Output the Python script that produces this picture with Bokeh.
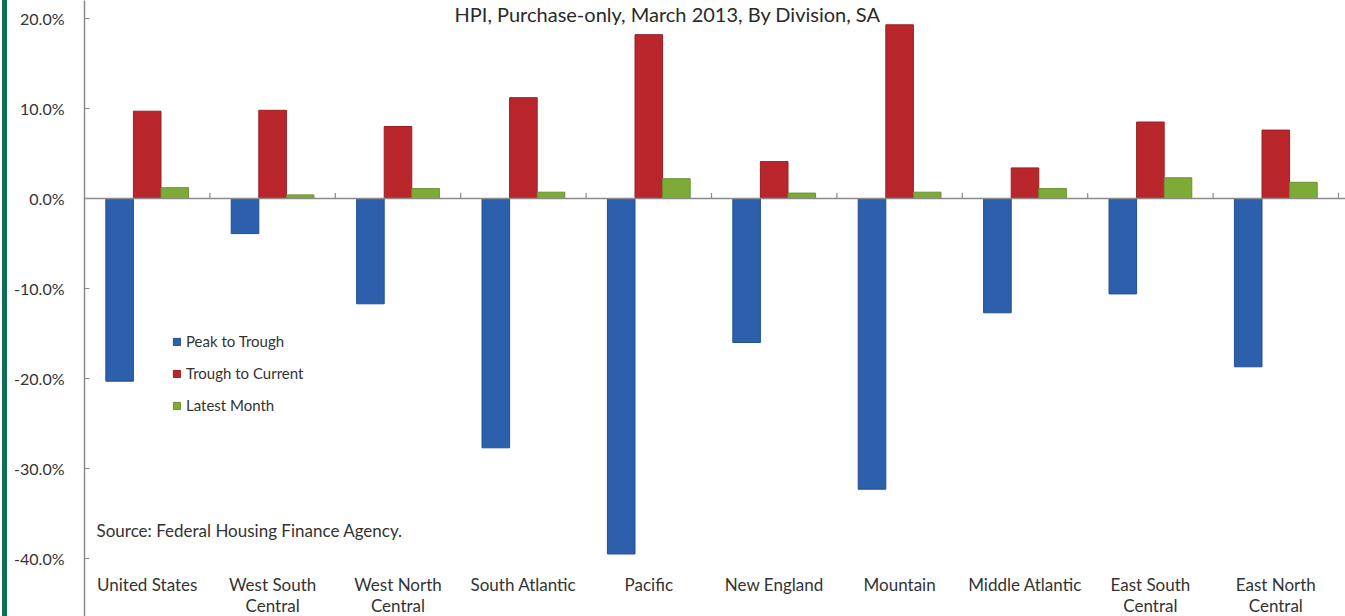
from bokeh.plotting import figure
from bokeh.models import (Range1d, FixedTicker, PrintfTickFormatter, Span, Legend,
                          LegendItem, Label, Div, ColumnDataSource)
from bokeh.layouts import row
from bokeh.embed import file_html
from bokeh.resources import INLINE
from bokeh.core.properties import value

# ---------------- data ----------------
categories = ["United States", "West South\nCentral", "West North\nCentral", "South Atlantic",
              "Pacific", "New England", "Mountain", "Middle Atlantic",
              "East South\nCentral", "East North\nCentral"]
peak_to_trough = [-20.3, -3.9, -11.7, -27.7, -39.5, -16.0, -32.3, -12.7, -10.6, -18.7]
trough_to_current = [9.7, 9.8, 8.0, 11.2, 18.2, 4.1, 19.3, 3.4, 8.5, 7.6]
latest_month = [1.2, 0.4, 1.1, 0.7, 2.2, 0.6, 0.7, 1.1, 2.3, 1.8]
series_names = ["Peak to Trough", "Trough to Current", "Latest Month"]
y_ticks = [-40, -30, -20, -10, 0, 10, 20]
title_text = "HPI, Purchase-only, March 2013, By Division, SA"
source_text = "Source: Federal Housing Finance Agency."

# ---------------- style ----------------
FONT = "Lato"
TXT = "#333333"
AX = "#8a8a8a"
colors = ["#2c5fac", "#b9272d", "#7eab37"]
edges = ["#244f94", "#9a1f24", "#6a9230"]

DIV_W = 8
W, H = 1338, 616
left_border = 76
frame_left = DIV_W + left_border
frame_w = W - left_border
cat_px = 125.4
x_end = frame_w / cat_px
px_per_pct = 9.0
zero_px = 198.0
y_top = zero_px / px_per_pct
y_bot = -(H - zero_px) / px_per_pct

p = figure(width=W, height=H, output_backend="svg", toolbar_location=None,
           x_range=Range1d(0, x_end), y_range=Range1d(y_bot, y_top),
           x_axis_location=None, min_border_left=left_border, min_border_right=0,
           min_border_top=0, min_border_bottom=0)
p.outline_line_color = None
p.grid.visible = False
p.background_fill_color = "white"
p.border_fill_color = "white"

yax = p.yaxis[0]
yax.ticker = FixedTicker(ticks=y_ticks)
yax.formatter = PrintfTickFormatter(format="%.1f%%")
yax.axis_line_color = AX
yax.axis_line_width = 1.5
yax.major_tick_line_color = AX
yax.major_tick_in = 5
yax.major_tick_out = 0
yax.minor_tick_line_color = None
yax.major_label_standoff = 20
yax.major_label_text_font = FONT
yax.major_label_text_font_size = "16px"
yax.major_label_text_color = TXT

# zero line and category boundary ticks
p.add_layout(Span(location=0, dimension="width", line_color=AX, line_width=1.5))
n = len(categories)
bounds = list(range(1, n + 1))
p.segment(x0=bounds, y0=[0] * n, x1=bounds, y1=[0.6] * n, line_color=AX, line_width=1.2)

# bars
bw = 0.22
centers = [i + 0.5 for i in range(n)]
renderers = []
for k, (vals, name) in enumerate(zip([peak_to_trough, trough_to_current, latest_month], series_names)):
    xs = [c + (k - 1) * bw for c in centers]
    src = ColumnDataSource(dict(x=xs, top=vals))
    r = p.vbar(x="x", top="top", bottom=0, width=bw, source=src,
               fill_color=colors[k], line_color=edges[k], line_width=1)
    renderers.append(r)

# category labels
line1 = [c.split("\n")[0] for c in categories]
line2 = [c.split("\n")[1] if "\n" in c else "" for c in categories]
y1 = -(584 - zero_px) / px_per_pct
y2 = -(605 - zero_px) / px_per_pct
p.text(x=centers, y=[y1] * n, text=line1, text_align="center", text_baseline="middle",
       text_font=value(FONT), text_font_size="17px", text_color=TXT)
p.text(x=centers, y=[y2] * n, text=line2, text_align="center", text_baseline="middle",
       text_font=value(FONT), text_font_size="17px", text_color=TXT)

# title and source
p.add_layout(Label(x=(667 - frame_left) / cat_px, y=(zero_px - 13) / px_per_pct,
                   text=title_text, text_align="center", text_baseline="alphabetic",
                   text_font=FONT, text_font_size="20px", text_color="#2a2a2a"))
p.add_layout(Label(x=(96 - frame_left) / cat_px, y=-(530 - zero_px) / px_per_pct,
                   text=source_text, text_align="left", text_baseline="middle",
                   text_font=FONT, text_font_size="17px", text_color=TXT))

legend = Legend(items=[LegendItem(label=nm, renderers=[r]) for nm, r in zip(series_names, renderers)],
                location=(88, 201), orientation="vertical",
                glyph_width=9, glyph_height=9, label_height=20, spacing=12,
                label_standoff=5, padding=0, margin=0,
                border_line_alpha=0, background_fill_alpha=0,
                label_text_font=FONT, label_text_font_size="15px", label_text_color=TXT)
p.add_layout(legend)

bar = Div(text="", width=DIV_W, height=H, margin=0,
          styles={"background": "linear-gradient(to right, #ffffff 0px, #ffffff 2px, #0f6e55 2px, #0f6e55 7px, #ffffff 7px)"})

layout = row(bar, p, spacing=0, margin=0)
open("out.html", "w").write(file_html(layout, INLINE))
